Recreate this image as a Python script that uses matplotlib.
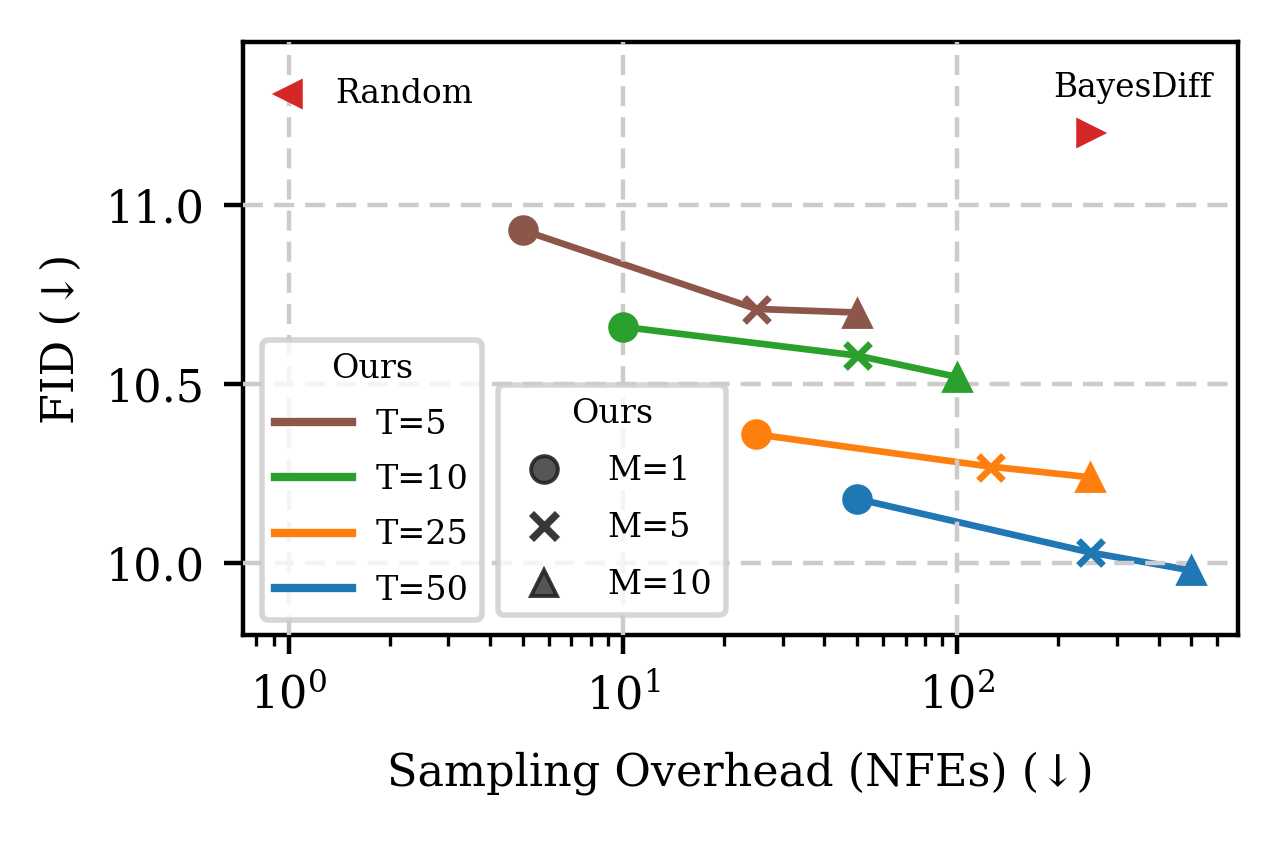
import numpy as np
import matplotlib
matplotlib.use("Agg")
from matplotlib import pyplot as plt
from matplotlib.lines import Line2D

plt.rcParams['font.family'] = ['DejaVu Serif']
plt.rcParams['mathtext.fontset'] = 'dejavuserif'

T_values = [5, 10, 25, 50]
M_values = [1, 5, 10]
colors = ['tab:brown', 'tab:green', 'tab:orange', 'tab:blue']
markers = ['o', 'x', '^']
fid = {
    5: [10.93, 10.71, 10.70],
    10: [10.66, 10.58, 10.52],
    25: [10.36, 10.27, 10.24],
    50: [10.18, 10.03, 9.98],
}
random_nfe, random_fid = 1, 11.31
bayesdiff_nfe, bayesdiff_fid = 250, 11.20

fig = plt.figure(figsize=(3.2, 2.105), dpi=400)
ax = fig.add_axes([0.19, 0.246, 0.777, 0.704])

for T, c in zip(T_values, colors):
    nfe = [T * m for m in M_values]
    ax.plot(nfe, fid[T], color=c, lw=1.2, zorder=2)
    for x, y, mk in zip(nfe, fid[T], markers):
        ax.plot(x, y, marker=mk, color=c, ms=5 if mk != 'x' else 4.5,
                mew=1.2 if mk == 'x' else 0.5, ls='none', zorder=3)

ax.plot(random_nfe, random_fid, marker='<', color='tab:red', ms=4, ls='none', zorder=3)
ax.text(1.38, random_fid, 'Random', fontsize=5.9, va='center', ha='left')
ax.plot(bayesdiff_nfe, bayesdiff_fid, marker='>', color='tab:red', ms=4, ls='none', zorder=3)
ax.text(335, 11.327, 'BayesDiff', fontsize=5.9, va='center', ha='center')

ax.set_xscale('log')
ax.set_xlim(0.73, 690)
ax.set_ylim(9.8, 11.455)
ax.set_yticks([10.0, 10.5, 11.0])
ax.set_yticklabels(['10.0', '10.5', '11.0'])
ax.grid(True, ls=(0, (4.5, 2.5)), color='#cccccc', lw=0.8)
ax.set_axisbelow(False)
for s in ax.spines.values():
    s.set_linewidth(0.8)
ax.tick_params(labelsize=8, width=0.8, length=3.5)
ax.tick_params(which='minor', width=0.6, length=2)
ax.set_xlabel('Sampling Overhead (NFEs) (↓)', fontsize=8, labelpad=6)
ax.set_ylabel('FID (↓)', fontsize=8)

h1 = [Line2D([], [], color=c, lw=1.5) for c in colors]
leg1 = ax.legend(h1, [f'T={t}' for t in T_values], title='Ours', fontsize=6.0,
                 title_fontsize=6.0, loc='lower left', bbox_to_anchor=(0.019, 0.025),
                 borderaxespad=0, handlelength=2.3, handletextpad=0.7,
                 labelspacing=0.7, framealpha=0.8, edgecolor='#cccccc')
leg1.get_frame().set_linewidth(1.0)
ax.add_artist(leg1)
h2 = [Line2D([], [], marker=m, color='#444444', mec='#222222', ls='none', ms=4.8,
             mew=1.3 if m == 'x' else 0.7, alpha=0.9) for m in markers]
leg2 = ax.legend(h2, [f'M={m}' for m in M_values], title='Ours', fontsize=6.0,
                 title_fontsize=6.0, loc='lower left', bbox_to_anchor=(0.256, 0.034),
                 borderaxespad=0, handlelength=2.0, handletextpad=0.9,
                 labelspacing=0.75, framealpha=0.8, edgecolor='#cccccc')
leg2.get_frame().set_linewidth(1.0)

fig.savefig('out.png', dpi=400)
